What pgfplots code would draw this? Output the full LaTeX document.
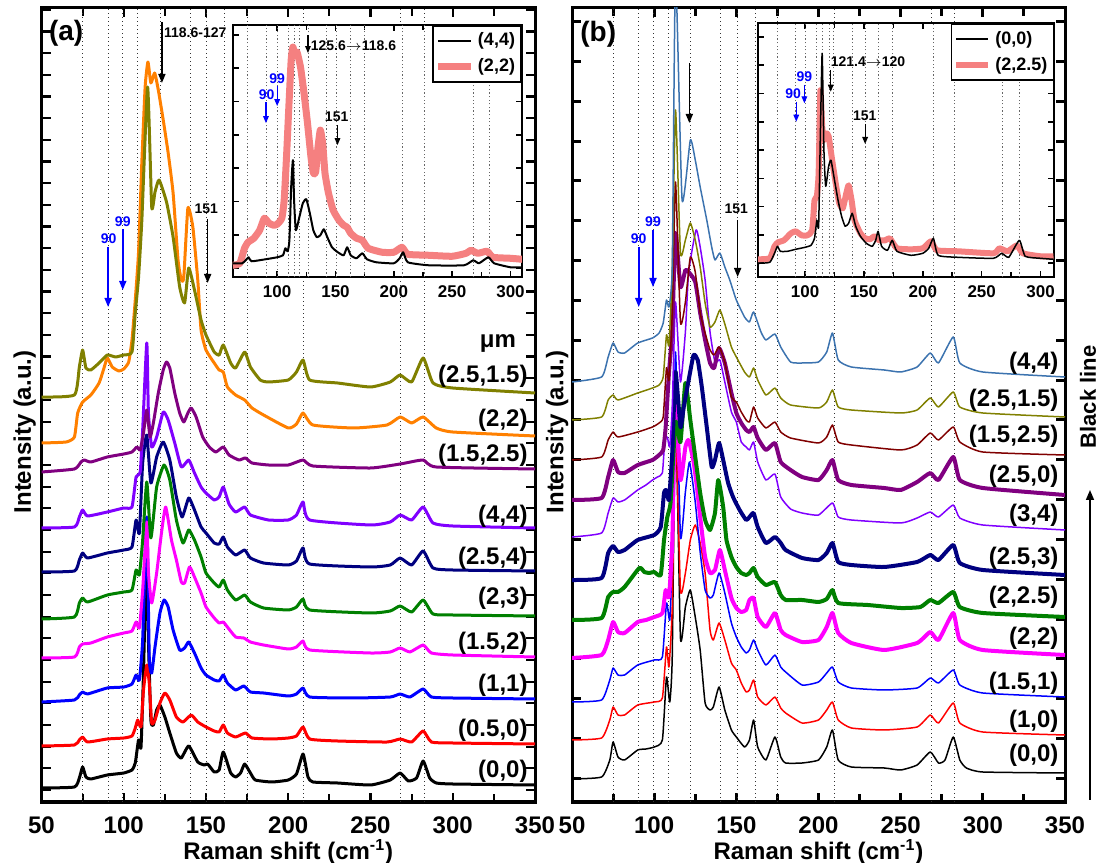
\documentclass[border=0pt]{standalone}
\usepackage{fontspec}
\setmainfont{Liberation Sans}
\usepackage{pgfplots}
\pgfplotsset{compat=1.18}
\usetikzlibrary{arrows.meta}

\definecolor{cOlive}{RGB}{128,128,0}
\definecolor{cOrange}{RGB}{255,128,0}
\definecolor{cPurple}{RGB}{128,0,128}
\definecolor{cViolet}{RGB}{128,0,255}
\definecolor{cNavy}{RGB}{0,0,128}
\definecolor{cGreen}{RGB}{0,128,0}
\definecolor{cMagenta}{RGB}{255,0,255}
\definecolor{cDarkred}{RGB}{128,0,0}
\definecolor{cSteel}{RGB}{60,115,175}
\definecolor{cPink}{RGB}{245,128,128}

\pgfplotsset{
  mainpanel/.style={
    scale only axis, anchor=south west, height=397pt,
    xmin=50, xmax=350, ymin=0, ymax=794,
    xtick={50,100,...,350}, minor x tick num=1,
    yticklabels={}, tick align=inside,
    axis line style={line width=1.5pt},
    major tick length=4.5pt, minor tick length=4pt,
    every tick/.style={black, line width=1.1pt},
    /pgf/number format/assume math mode=true,
    xticklabel style={font=\bfseries\fontsize{12}{12}\selectfont, yshift=-3.6pt},
    xlabel={Raman shift (cm\textsuperscript{-1})},
    ylabel={Intensity (a.u.)},
    label style={font=\bfseries\fontsize{12}{14}\selectfont},
    xlabel style={at={(axis description cs:0.5,-0.063)}, anchor=center},
    no markers,
    every axis plot/.append style={smooth, tension=0.3, line join=round},
  },
  insetpanel/.style={
    scale only axis, anchor=south west, ymin=0,
    xtick={100,150,...,300}, minor x tick num=1,
    yticklabels={}, tick align=inside,
    axis line style={line width=1pt},
    major tick length=3pt, minor tick length=2.5pt,
    every tick/.style={black, line width=0.8pt},
    axis background/.style={fill=white},
    /pgf/number format/assume math mode=true,
    xticklabel style={font=\bfseries\fontsize{8.5}{8.5}\selectfont, yshift=-0.5pt},
    no markers,
    every axis plot/.append style={smooth, tension=0.3, line join=round},
    legend style={at={(1,1)}, anchor=north east, draw=black, line width=0.8pt, fill=white,
      font=\bfseries\fontsize{9}{9}\selectfont, inner xsep=1pt, inner ysep=1.5pt, row sep=1pt,
      cells={anchor=west}},
    legend image code/.code={\draw[#1, sharp plot] (0pt,0pt) -- (16pt,0pt);},
  },
}
\tikzset{
  clab/.style={anchor=east, font=\bfseries\fontsize{12}{12}\selectfont, inner sep=0pt},
  small/.style={font=\bfseries\fontsize{7}{7}\selectfont, inner sep=0pt},
  ann/.style={-{Triangle[length=4.5pt,width=3.5pt]}, line width=0.8pt},
  anns/.style={-{Triangle[length=3.5pt,width=2.8pt]}, line width=0.6pt},
  guide/.style={black!80, line width=0.45pt, dash pattern=on 0.7pt off 1.3pt},
  iguide/.style={black!60, line width=0.4pt, dash pattern=on 0.6pt off 1.2pt},
}

\begin{document}
\begin{tikzpicture}[x=1pt,y=1pt]
\path[use as bounding box] (0,0) rectangle (549.5,431.5);

% ---------------- panel (a) ----------------
\begin{axis}[mainpanel, at={(20.75pt,30.5pt)}, width=246.75pt,
  ytick={12,33.67,...,794},
  ylabel style={at={(axis description cs:-0.034,0.466)}, anchor=center}]
\pgfplotsinvokeforeach{75,90.5,99,108.5,122.5,140.5,150.5,161.5,175,209.5,268.5,282.5}{
  \draw[guide] (#1,0) -- (#1,794);}
% (0,0)
\addplot[black, line width=1.5pt] coordinates {(50,14)(70,15)(73,24)(75,35)(77,25)(80,23)(90,27)(100,29)(105,32)(107,39)(109,62)(110.5,55)(112,129)(114,257)(115,162)(116.5,82)(118,77)(120,92)(122,97)(125,85)(128,69)(132,49)(135,44)(139.5,56)(145,40)(149,37)(151,38)(155,30)(158,32)(160.5,50)(165,29)(168,25)(171,29)(173.5,38)(177,29)(180,22)(190,20)(200,22)(205,28)(209,48)(212,25)(215,20)(230,19)(250,17)(262,22)(268,29)(273,21)(278,24)(282,41)(286,24)(290,19)(300,18)(350,17)};
% (0.5,0)
\addplot[red, line width=1.5pt] coordinates {(50,56)(70,57)(73,62)(75,65)(78,60)(90,63)(100,64)(105,66)(107,74)(108.5,82)(110.5,75)(112,112)(114,137)(115.5,119)(117,79)(119,82)(122,99)(125,109)(128,102)(132,85)(136,80)(141,87)(145,80)(150,75)(155,71)(158,70)(160.5,77)(163,69)(168,65)(174,69)(178,64)(190,63)(200,64)(205,66)(209,75)(213,63)(230,61)(260,60)(268,63)(275,60)(282,71)(287,60)(300,59)(350,58)};
% (1,1)
\addplot[blue, line width=1.5pt] coordinates {(50,100)(70,102)(73,107)(75,110)(78,108)(90,114)(100,115)(105,118)(107.5,127)(109.5,122)(111.5,162)(114,285)(115.5,145)(117,129)(119,155)(122,189)(124.5,202)(127,195)(130,172)(134,152)(137,154)(139.5,160)(143,149)(147,134)(150,127)(155,122)(158,121)(160.5,127)(163,119)(168,112)(173,116)(177,110)(185,109)(200,106)(205,108)(209,114)(213,105)(240,104)(262,105)(268,108)(274,105)(282,113)(287,105)(300,104)(350,103)};
% (1.5,2)
\addplot[cMagenta, line width=1.5pt] coordinates {(50,144)(70,145)(73,155)(75,158)(80,159)(90,165)(100,169)(105,171)(107.5,180)(109.5,174)(111.5,212)(114,280)(115,230)(117,199)(120,229)(123,270)(125.5,295)(129,262)(132,242)(135,220)(137,219)(140,235)(143,225)(147,209)(150,195)(155,184)(158,179)(160.5,180)(163,175)(168,165)(173,164)(177,160)(185,157)(200,153)(205,155)(209,161)(213,152)(250,149)(262,150)(268,154)(274,150)(282,157)(287,149)(300,147)(350,145)};
% (2,3)
\addplot[cGreen, line width=1.5pt] coordinates {(50,183)(70,185)(73,199)(75,204)(78,200)(90,207)(100,210)(105,212)(107.5,232)(109.5,227)(111.5,262)(114,320)(116.5,264)(120,315)(124.5,337)(128,322)(132,282)(136,259)(139.5,272)(143,262)(147,245)(150,229)(155,219)(158,215)(160.5,222)(163,212)(168,202)(173.5,207)(177,200)(185,194)(200,192)(205,195)(209,203)(213,192)(250,189)(262,191)(268,196)(275,190)(282,202)(288,188)(300,187)(350,186)};
% (2.5,4)
\addplot[cNavy, line width=1.5pt] coordinates {(50,230)(70,231)(73,242)(75,249)(78,244)(90,249)(100,252)(105,255)(107.5,282)(109.5,269)(111.5,339)(114,367)(116.5,319)(120,345)(124,360)(128,342)(132,305)(135.5,285)(139.5,304)(143,292)(147,275)(150,269)(155,259)(158,258)(160.5,265)(163,255)(168,247)(173.5,252)(177,244)(185,239)(200,237)(205,241)(209,254)(213,238)(250,235)(262,237)(268,244)(275,237)(282,251)(288,234)(300,232)(350,231)};
% (4,4)
\addplot[cViolet, line width=1.5pt] coordinates {(50,274)(70,275)(73,285)(75,292)(78,286)(90,290)(100,294)(105,295)(107.5,325)(110,330)(111.5,372)(114,459)(115,389)(117,355)(120,365)(124,390)(127,382)(131,359)(135,335)(139.5,342)(143,329)(147,315)(150,309)(155,302)(158,305)(160.5,315)(164,298)(168,290)(173.5,295)(177,287)(188,282)(200,282)(205,287)(209,300)(213,282)(250,277)(262,280)(268,287)(275,282)(282,295)(288,279)(300,276)(350,274)};
% (1.5,2.5)
\addplot[cPurple, line width=1.5pt] coordinates {(50,330)(70,333)(74,340)(76,342)(80,340)(90,345)(100,348)(105,350)(108,355)(110,352)(112,369)(114,392)(116,365)(118,379)(121,409)(124,432)(126,440)(128,434)(131,409)(134,389)(136.5,380)(139,389)(141,394)(144,385)(148,365)(152,355)(156,350)(160.5,355)(164,347)(170,342)(174,344)(178,339)(188,337)(200,337)(209,342)(215,336)(250,334)(268,338)(282,342)(290,335)(350,333)};
% (2,2)
\addplot[cOrange, line width=1.5pt] coordinates {(50,359)(65,360)(70,365)(72,389)(75,400)(80,407)(85,419)(88,434)(90,444)(93,435)(97,431)(100,433)(103,440)(105,462)(107,502)(109,550)(111,640)(113,715)(114.7,740)(116.5,719)(118.8,729)(121,712)(124,682)(127,649)(130,609)(133,542)(135,522)(136.5,525)(139,594)(142,575)(145,522)(147,472)(150,452)(155,439)(158,432)(160.5,430)(163,415)(168,407)(173.5,402)(178,394)(185,387)(200,374)(205,378)(209,389)(215,377)(240,374)(260,377)(268,385)(275,379)(282,385)(290,374)(300,370)(350,366)};
% (2.5,1.5)
\addplot[cOlive, line width=1.5pt] coordinates {(50,405)(70,407)(73,435)(75,452)(77,434)(80,432)(85,439)(90,447)(95,445)(100,447)(105,450)(107,489)(109,525)(111,582)(114.5,715)(117,595)(119,610)(121.5,622)(126,600)(130,565)(134,515)(137,499)(139.5,534)(143,512)(147,482)(150,467)(155,450)(158,447)(160.5,457)(165,439)(168,434)(173.5,450)(177,435)(183,422)(188,420)(200,422)(205,430)(209,442)(213,422)(230,419)(250,415)(262,420)(268,427)(275,420)(282,444)(288,419)(300,414)(350,409)};

\node[font=\bfseries\fontsize{14}{14}\selectfont, inner sep=0pt] at (65,769) {(a)};
\draw[ann] (123.2,780) -- (123.2,719);
\node[small, anchor=west] at (124.3,769.5) {118.6-127};
\node[small] at (150.2,593.7) {151};
\draw[ann] (151,583) -- (151,519);
\node[small, blue] at (99.4,580.3) {99};
\draw[ann, blue] (99.4,573) -- (99.4,512);
\node[small, blue] at (90.8,563.7) {90};
\draw[ann, blue] (90.5,555) -- (90.5,495);
\node[font=\bfseries\fontsize{12}{12}\selectfont, inner sep=0pt] at (327.5,459) {μm};
\node[clab] at (345.7,425.3) {(2.5,1.5)};
\node[clab] at (345.7,382) {(2,2)};
\node[clab] at (345.7,347) {(1.5,2.5)};
\node[clab] at (345.7,285.3) {(4,4)};
\node[clab] at (345.7,243.7) {(2.5,4)};
\node[clab] at (345.7,204) {(2,3)};
\node[clab] at (345.7,158.7) {(1.5,2)};
\node[clab] at (345.7,117) {(1,1)};
\node[clab] at (345.7,72) {(0.5,0)};
\node[clab] at (345.7,30.3) {(0,0)};
\end{axis}

% inset (a)
\begin{axis}[insetpanel, at={(116.3pt,292.85pt)}, width=144.6pt, height=126.15pt,
  xmin=61.8, xmax=309.7, ymax=252, ytick={9,42.3,...,252}]
\pgfplotsinvokeforeach{74.5,91,100,110,114.5,119,126.5,142,151,163,175,207.6,226.4,268.5,282}{
  \draw[iguide] (#1,0) -- (#1,252);}
\addplot[cPink, line width=3.5pt, forget plot] coordinates {(62,12)(68,14)(72,29)(75,35)(80,39)(85,47)(89,59)(93,54)(97,52)(100,53)(104,59)(106,77)(108,120)(110,170)(112,217)(113.5,230)(115,222)(117,225)(120,210)(123,184)(126,154)(129,120)(131,104)(133,105)(135,130)(137,147)(139,134)(141,104)(144,84)(148,67)(153,57)(157,52)(160,50)(163,44)(168,39)(173,37)(178,29)(190,25)(200,25)(207,30)(212,23)(230,22)(250,21)(262,24)(266,27)(272,24)(280,26)(285,20)(300,19)(310,18)};
\addplot[black, line width=1pt] coordinates {(62,14)(70,14)(73,17)(75.5,20)(78,16)(90,18)(100,20)(105,22)(107,29)(109,26)(110.5,37)(112,90)(113.5,117)(114.5,77)(116,47)(119,60)(122,74)(125,78)(128,64)(131,47)(134,40)(137,42)(140,48)(143,40)(147,30)(152,25)(157,22)(160,30)(163,22)(168,19)(173,24)(177,18)(185,15)(200,14)(205,19)(208,25)(212,15)(230,12)(260,12)(268,17)(273,14)(281,20)(286,14)(300,10)(310,10)};
\addlegendentry{(4,4)}
\addlegendimage{cPink, line width=3.5pt}
\addlegendentry{(2,2)}
\node[small, anchor=west] at (128.5,231.3) {125.6$\to$118.6};
\draw[anns] (126.4,242) -- (126.4,224);
\node[small, blue] at (100,198) {99};
\draw[anns, blue] (100,191) -- (100,171);
\node[small, blue] at (91,182.3) {90};
\draw[anns, blue] (90.4,174.6) -- (90.4,154);
\node[small] at (151,160) {151};
\draw[anns] (151.7,152) -- (151.7,132);
\end{axis}

% ---------------- panel (b) ----------------
\begin{axis}[mainpanel, at={(286pt,30.5pt)}, width=246.5pt,
  ytick={23.7,63.52,...,794}, every tick/.style={black, line width=1.5pt},
  ylabel style={at={(axis description cs:-0.030,0.466)}, anchor=center}]
\pgfplotsinvokeforeach{75,90.5,99.5,108.5,122,140.5,150.8,161.5,175,209.5,268.6,282.5}{
  \draw[guide] (#1,0) -- (#1,794);}
% (0,0)
\addplot[black, line width=0.75pt] coordinates {(50,23)(68,25)(73,42)(75,60)(78,45)(82,42)(90,52)(95,53)(100,55)(105,62)(107.5,125)(109.5,100)(111,145)(113,390)(116,164)(119,195)(122,212)(125,185)(128,152)(131,99)(134,92)(136,95)(139.5,115)(143,92)(147,72)(150,65)(155,55)(158,62)(160.5,82)(163,55)(168,42)(173.5,65)(177,45)(180,39)(190,39)(200,42)(205,55)(208.5,72)(212,42)(220,35)(240,34)(250,32)(260,37)(268,50)(273,39)(277,42)(282,65)(286,42)(290,34)(300,30)(350,29)};
% (1,0)
\addplot[red, line width=0.75pt] coordinates {(50,62)(68,64)(73,82)(75,95)(78,87)(82,87)(90,97)(100,100)(105,104)(107.5,155)(109,135)(111,195)(113,380)(116,212)(119,229)(122,262)(125,277)(128,259)(131,229)(134,172)(136,162)(139.5,179)(143,162)(147,139)(150,132)(153,119)(156,110)(158,112)(160.5,122)(163,105)(168,97)(173.5,105)(177,94)(180,89)(190,79)(200,82)(205,92)(208.5,100)(212,82)(220,74)(240,72)(260,75)(268,87)(273,79)(282,99)(286,79)(300,70)(350,67)};
% (1.5,1)
\addplot[blue, line width=0.75pt] coordinates {(50,100)(68,102)(73,122)(75,134)(78,127)(82,127)(90,137)(100,142)(105,145)(107.5,199)(109.5,182)(111,250)(113,450)(116,265)(119,310)(121.5,340)(125,300)(128,250)(131,212)(134,204)(136,207)(139.5,229)(143,209)(147,179)(150,165)(153,155)(156,149)(158,152)(160.5,162)(163,152)(168,137)(173.5,147)(177,135)(180,130)(190,117)(200,120)(205,129)(208.5,135)(212,120)(220,114)(240,112)(260,114)(268,124)(273,119)(282,132)(286,117)(300,109)(350,105)};
% (2,2)
\addplot[cMagenta, line width=2pt] coordinates {(50,144)(68,147)(72,162)(75,180)(78,170)(82,169)(90,180)(95,182)(100,185)(105,189)(107,212)(109,205)(111,260)(113,400)(116,322)(119,355)(121,362)(124,340)(126,315)(128,285)(131,245)(134,229)(137,232)(140,252)(143,232)(147,204)(150,194)(153,190)(156,192)(158,202)(160.5,204)(163,185)(168,175)(173.5,189)(177,172)(180,167)(190,160)(200,162)(205,175)(208.5,189)(212,169)(220,159)(240,152)(260,159)(268,170)(273,162)(282,189)(286,162)(300,152)(350,147)};
% (2,2.5)
\addplot[cGreen, line width=2pt] coordinates {(50,182)(68,184)(72,205)(75,210)(78,210)(82,215)(91,234)(94,230)(97,229)(100,230)(104,227)(106,262)(108,285)(110,300)(113,380)(116,360)(119,419)(122,382)(125,345)(128,309)(131,282)(134,272)(137,289)(139,322)(142,295)(144,262)(147,245)(150,235)(153,229)(156,227)(158,229)(160.5,234)(163,225)(168,217)(173.5,220)(177,207)(180,202)(190,202)(200,200)(205,203)(208.5,212)(212,199)(230,197)(250,194)(262,195)(268,202)(273,199)(282,210)(286,195)(300,189)(350,185)};
% (2.5,3)
\addplot[cNavy, line width=2pt] coordinates {(50,222)(68,224)(72,249)(75,256)(78,250)(82,252)(90,262)(100,267)(104,275)(106,309)(107.5,312)(109,302)(111,349)(113,430)(116,375)(118,395)(121,422)(124,447)(126.5,442)(129,415)(132,375)(135,335)(137,342)(139.5,359)(142,342)(145,319)(148,305)(152,292)(156,282)(158,285)(160.5,289)(163,275)(168,259)(173.5,265)(177,259)(180,252)(190,244)(200,242)(205,249)(208.5,259)(212,240)(220,237)(240,235)(260,240)(268,247)(273,242)(282,257)(286,239)(300,232)(350,227)};
% (3,4)
\addplot[cViolet, line width=0.75pt] coordinates {(50,265)(68,269)(72,289)(75,304)(78,300)(82,302)(90,312)(95,317)(99,322)(102,325)(105,329)(106.5,362)(108,365)(109.5,355)(111,395)(113,500)(116,420)(119,470)(121,530)(125.5,572)(128,555)(131,522)(134,470)(137,440)(140,442)(143,420)(147,390)(150,380)(153,360)(156,355)(158,352)(160.5,360)(163,340)(168,322)(173.5,328)(177,305)(183,293)(190,289)(200,287)(208.5,299)(212,285)(220,282)(250,279)(260,284)(268,290)(273,285)(282,297)(286,284)(300,277)(350,272)};
% (2.5,0)
\addplot[cPurple, line width=2pt] coordinates {(50,302)(68,304)(72,325)(75,342)(78,330)(82,329)(90,337)(99,342)(103,347)(105.5,352)(107,375)(109,429)(111,472)(113,569)(116,515)(119,532)(121,530)(125,520)(128,489)(131,462)(134,439)(136.5,434)(139.5,454)(143,439)(147,409)(150,389)(153,379)(156,372)(158,370)(160.5,375)(163,364)(168,352)(173.5,359)(177,340)(183,332)(190,325)(200,322)(205,332)(208.5,342)(212,322)(220,317)(240,314)(250,312)(260,320)(268,329)(273,322)(282,345)(286,322)(300,314)(350,307)};
% (1.5,2.5)
\addplot[cDarkred, line width=0.75pt] coordinates {(50,342)(68,345)(72,362)(75,370)(78,365)(90,370)(99,375)(103,379)(105.5,385)(107.5,434)(109,422)(111,489)(113,620)(116,480)(119,500)(122,545)(125,530)(128,489)(131,469)(134,452)(136.5,447)(139.5,455)(143,440)(147,405)(150,400)(153,390)(156,382)(158,380)(160.5,395)(163,384)(168,374)(173.5,380)(177,370)(183,364)(200,359)(205,365)(208.5,377)(212,360)(220,357)(250,352)(260,357)(268,369)(273,362)(282,375)(286,360)(300,350)(350,347)};
% (2.5,1.5)
\addplot[cOlive, line width=0.75pt] coordinates {(50,382)(68,385)(72,402)(75,407)(78,402)(90,409)(99,414)(103,417)(105.5,425)(107.5,467)(109,457)(111,532)(113,692)(116,549)(119,562)(122,579)(125,562)(128,535)(131,499)(134,475)(137,480)(140,492)(143,478)(147,455)(150,445)(155,430)(158,425)(160.5,434)(163,422)(168,407)(173.5,414)(177,404)(183,397)(200,394)(205,400)(208.5,412)(212,395)(220,392)(250,389)(260,392)(268,404)(273,395)(282,410)(286,395)(300,389)(350,385)};
% (4,4)
\addplot[cSteel, line width=0.75pt] coordinates {(50,420)(68,425)(72,445)(75,459)(78,450)(82,449)(90,459)(99,464)(103,469)(105.5,479)(107.5,502)(109,495)(111,535)(113,830)(117,602)(122,662)(125,642)(128,615)(132,582)(135,555)(137,542)(140,549)(143,535)(146,522)(150,502)(155,485)(158,480)(160.5,490)(165,470)(168,462)(173.5,468)(177,455)(183,440)(190,439)(200,440)(205,450)(208.5,469)(212,442)(220,435)(240,432)(250,430)(260,435)(268,449)(273,439)(282,465)(286,439)(300,430)(350,425)};

\node[font=\bfseries\fontsize{14}{14}\selectfont, inner sep=0pt] at (66,767.5) {(b)};
\draw[ann] (121.4,739) -- (121.4,679);
\node[small] at (150,593.7) {151};
\draw[ann] (150.8,582) -- (150.8,525);
\node[small, blue] at (99.3,580.3) {99};
\draw[ann, blue] (99.3,572) -- (99.3,515);
\node[small, blue] at (90.6,563.7) {90};
\draw[ann, blue] (90.6,555) -- (90.6,495);
\node[clab] at (346.2,438.7) {(4,4)};
\node[clab] at (346.2,402) {(2.5,1.5)};
\node[clab] at (346.2,365.3) {(1.5,2.5)};
\node[clab] at (346.2,325.3) {(2.5,0)};
\node[clab] at (346.2,287) {(3,4)};
\node[clab] at (346.2,243.7) {(2.5,3)};
\node[clab] at (346.2,205) {(2,2.5)};
\node[clab] at (346.2,163.7) {(2,2)};
\node[clab] at (346.2,118.7) {(1.5,1)};
\node[clab] at (346.2,80.3) {(1,0)};
\node[clab] at (346.2,47) {(0,0)};
\end{axis}

% inset (b)
\begin{axis}[insetpanel, at={(379pt,292.85pt)}, width=148.1pt, height=127pt,
  xmin=60, xmax=311.6, ymax=254, ytick={14,42.3,...,254}]
\pgfplotsinvokeforeach{76.5,92,100,110,114.4,120.3,124.2,140.5,151.6,162,174,209,227,267.8,282.2}{
  \draw[iguide] (#1,0) -- (#1,254);}
\addplot[cPink, line width=3pt, forget plot] coordinates {(60,18)(70,19)(74,31)(77,35)(82,37)(88,44)(92,46)(97,42)(102,42)(106,47)(108,77)(110,81)(111.5,104)(113,187)(114.5,151)(116,137)(118,144)(120,141)(123,117)(126,94)(129,74)(132,69)(135,84)(137,92)(139.5,77)(142,57)(147,44)(151,39)(155,38)(159,41)(163,37)(168,37)(172,39)(178,29)(190,28)(200,29)(207,36)(212,27)(230,26)(260,24)(265,29)(272,26)(280,32)(285,24)(300,21)(311,21)};
\addplot[black, line width=0.75pt] coordinates {(60,14)(70,15)(74,24)(76.5,31)(79,26)(85,26)(92,28)(100,30)(105,32)(108,39)(110,57)(111.5,51)(113,144)(114.5,224)(116,127)(117.5,91)(120,111)(122,117)(125,97)(128,77)(131,61)(134,51)(137,54)(140,64)(143,51)(147,41)(152,34)(157,31)(160,37)(162,46)(165,31)(170,27)(174,37)(178,26)(190,22)(200,24)(205,29)(209,39)(213,22)(230,20)(260,19)(267,24)(273,20)(282,37)(287,21)(300,19)(311,18)};
\addlegendentry{(0,0)}
\addlegendimage{cPink, line width=3pt}
\addlegendentry{(2,2.5)}
\node[small, anchor=west] at (121.5,215.6) {121.4$\to$120};
\draw[anns] (121.8,207.3) -- (121.8,185.6);
\node[small, blue] at (99.4,200.6) {99};
\draw[anns, blue] (99.4,192.3) -- (99.4,174);
\node[small, blue] at (89.9,184) {90};
\draw[anns, blue] (92.5,175.6) -- (92.5,155.6);
\node[small] at (150.7,161.3) {151};
\draw[anns] (151,153.3) -- (151,133.3);
\end{axis}

\node[rotate=90, font=\bfseries\fontsize{11}{11}\selectfont, inner sep=0pt] at (544,233) {Black line};
\draw[-{Triangle[length=5pt,width=4pt]}, line width=0.8pt] (545,31.5) -- (545,186.5);
\end{tikzpicture}
\end{document}
